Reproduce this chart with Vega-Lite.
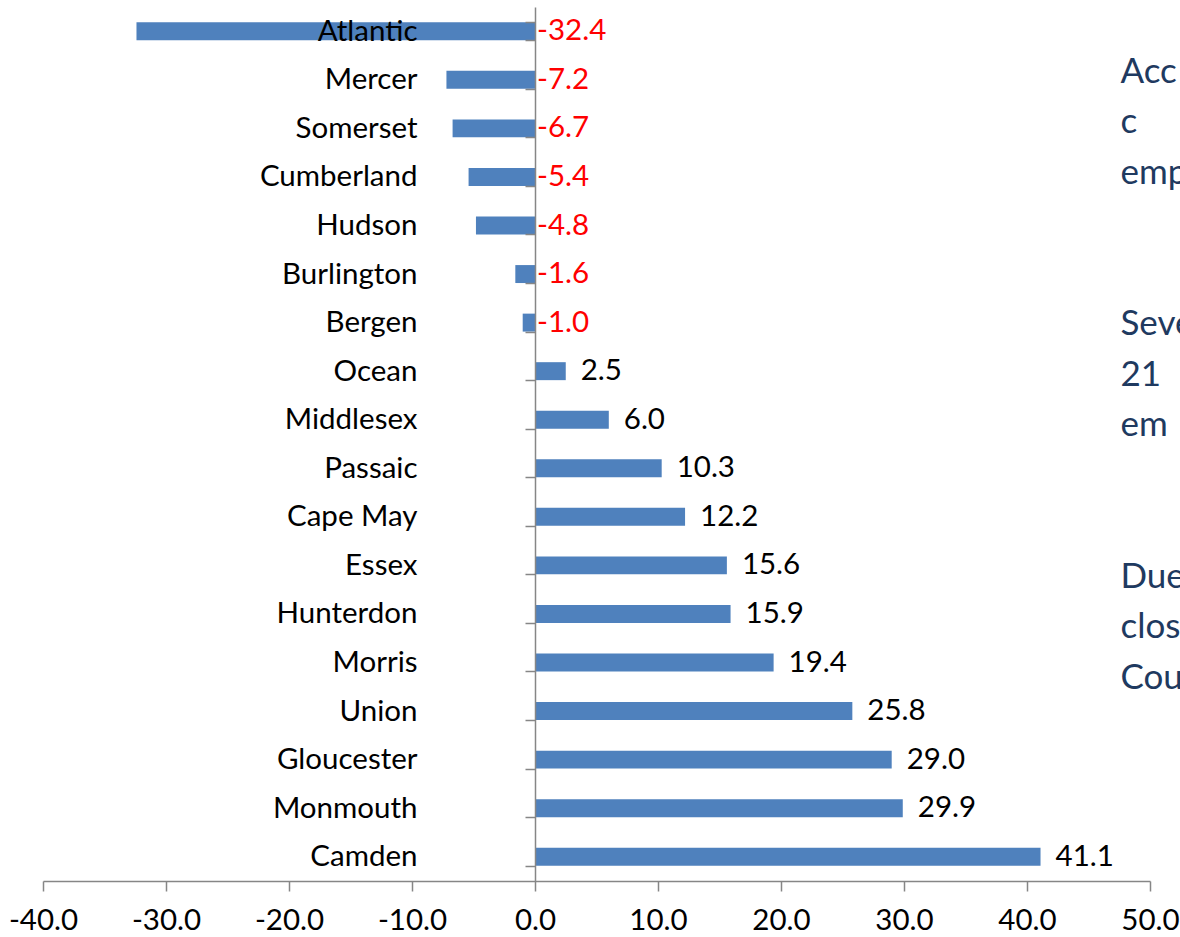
{
  "$schema": "https://vega.github.io/schema/vega-lite/v6.json",
  "autosize": "none",
  "width": 1107,
  "height": 874,
  "padding": {"left": 43, "top": 7, "right": 30, "bottom": 56},
  "background": "white",
  "config": {
    "view": {"stroke": null},
    "font": "Lato",
    "axis": {"labelFont": "Lato", "labelFontSize": 29.5, "labelColor": "#000000", "domainColor": "#868686", "tickColor": "#868686", "domainWidth": 1.5, "tickWidth": 1.5, "grid": false, "title": null}
  },
  "datasets": {
    "counties": [
      {"county": "Atlantic", "value": -32.4},
      {"county": "Mercer", "value": -7.2},
      {"county": "Somerset", "value": -6.7},
      {"county": "Cumberland", "value": -5.4},
      {"county": "Hudson", "value": -4.8},
      {"county": "Burlington", "value": -1.6},
      {"county": "Bergen", "value": -1.0},
      {"county": "Ocean", "value": 2.5},
      {"county": "Middlesex", "value": 6.0},
      {"county": "Passaic", "value": 10.3},
      {"county": "Cape May", "value": 12.2},
      {"county": "Essex", "value": 15.6},
      {"county": "Hunterdon", "value": 15.9},
      {"county": "Morris", "value": 19.4},
      {"county": "Union", "value": 25.8},
      {"county": "Gloucester", "value": 29.0},
      {"county": "Monmouth", "value": 29.9},
      {"county": "Camden", "value": 41.1}
    ],
    "note": [
      {"text": "Acc", "line": 0},
      {"text": "c", "line": 1},
      {"text": "emp", "line": 2},
      {"text": "Seve", "line": 5},
      {"text": "21", "line": 6},
      {"text": "em", "line": 7},
      {"text": "Due", "line": 10},
      {"text": "clos", "line": 11},
      {"text": "Cour", "line": 12}
    ]
  },
  "layer": [
    {
      "data": {"name": "counties"},
      "transform": [{"calculate": "replace(format(datum.value, '.1f'), '\u2212', '-')", "as": "label"}],
      "encoding": {
        "y": {
          "field": "county", "type": "nominal",
          "sort": ["Atlantic", "Mercer", "Somerset", "Cumberland", "Hudson", "Burlington", "Bergen", "Ocean", "Middlesex", "Passaic", "Cape May", "Essex", "Hunterdon", "Morris", "Union", "Gloucester", "Monmouth", "Camden"],
          "scale": {"paddingInner": 0.63, "paddingOuter": 0.315},
          "axis": {"offset": -492, "tickBand": "extent", "tickSize": 10, "labelPadding": 108, "labelAlign": "right", "zindex": 1}
        }
      },
      "layer": [
        {
          "mark": {"type": "bar", "color": "#4F81BD"},
          "encoding": {
            "x": {
              "field": "value", "type": "quantitative",
              "scale": {"domain": [-40, 50], "nice": false},
              "axis": {"values": [-40, -30, -20, -10, 0, 10, 20, 30, 40, 50], "format": ".1f", "labelExpr": "replace(datum.label, '\u2212', '-')", "labelFlush": false, "labelOverlap": false, "tickSize": 10, "labelPadding": 15, "zindex": 1}
            }
          }
        },
        {
          "transform": [{"filter": "datum.value < 0"}],
          "mark": {"type": "text", "align": "left", "baseline": "middle", "dx": 2, "fontSize": 29.5, "color": "#FF0000"},
          "encoding": {
            "x": {"datum": 0, "type": "quantitative"},
            "text": {"field": "label"}
          }
        },
        {
          "transform": [{"filter": "datum.value >= 0"}],
          "mark": {"type": "text", "align": "left", "baseline": "middle", "dx": 15, "fontSize": 29.5, "color": "#000000"},
          "encoding": {
            "x": {"field": "value", "type": "quantitative"},
            "text": {"field": "label"}
          }
        }
      ]
    },
    {
      "data": {"name": "note"},
      "mark": {"type": "text", "align": "left", "baseline": "middle", "fontSize": 35, "color": "#1F3A60", "clip": false},
      "encoding": {
        "x": {"datum": 47.6, "type": "quantitative"},
        "y": {"field": "line", "type": "quantitative", "scale": {"domain": [-1.287, 16.02], "reverse": true, "nice": false, "zero": false}, "axis": null},
        "text": {"field": "text"}
      }
    }
  ],
  "resolve": {"scale": {"y": "independent"}}
}
